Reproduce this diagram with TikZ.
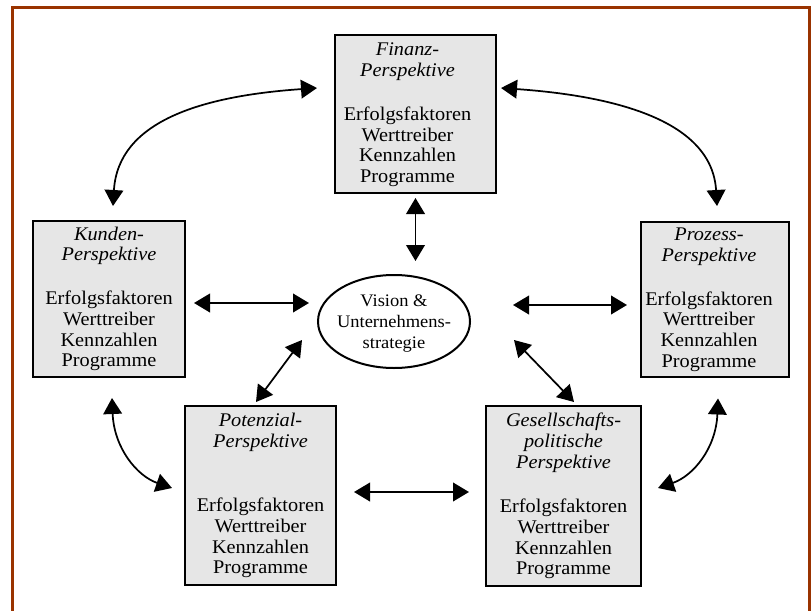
\documentclass[tikz,border=0pt]{standalone}
\usepackage{fontspec}
\setmainfont{Liberation Serif}[FakeStretch=1.05]
\usetikzlibrary{arrows.meta,shapes.geometric,calc}
\definecolor{framecol}{HTML}{993300}
\definecolor{boxfill}{HTML}{E6E6E6}
\begin{document}
\begin{tikzpicture}[x=0.75pt,y=-0.75pt,
  font=\fontsize{14.5}{15.5}\selectfont,
  persp/.style={draw, line width=1.5pt, fill=boxfill, align=center, inner sep=0pt},
  ptext/.style={align=center, inner sep=0pt},
  dbl/.style={line width=1.3pt, {Triangle[length=12pt,width=14pt]}-{Triangle[length=12pt,width=14pt]}}]
\useasboundingbox (0,0) rectangle (812,610);
\draw[framecol, line width=2.25pt] (12.5,7.5) rectangle (809.5,660);

\node[persp, minimum width=120.75pt, minimum height=118.5pt] (fin) at (415.5,114) {};
\node[ptext] (fint) at ($(fin.center)+(-8,1)$)
  {\textit{Finanz-}\\\textit{Perspektive}\\[17.5pt]Erfolgsfaktoren\\Werttreiber\\Kennzahlen\\Programme};
\node[persp, minimum width=114pt, minimum height=117pt] (kun) at (109,299)
  {\textit{Kunden-}\\\textit{Perspektive}\\[17.5pt]Erfolgsfaktoren\\Werttreiber\\Kennzahlen\\Programme};
\node[persp, minimum width=111pt, minimum height=116.25pt] (pro) at (715,299.5) {};
\node[ptext] (prot) at ($(pro.center)+(-6,0)$)
  {\textit{Prozess-}\\\textit{Perspektive}\\[17.5pt]Erfolgsfaktoren\\Werttreiber\\Kennzahlen\\Programme};
\node[persp, minimum width=113.25pt, minimum height=134.25pt] (pot) at (260.5,495.5)
  {\textit{Potenzial-}\\\textit{Perspektive}\\[33pt]Erfolgsfaktoren\\Werttreiber\\Kennzahlen\\Programme};
\node[persp, minimum width=116.25pt, minimum height=135pt] (ges) at (563.5,496)
  {\textit{Gesellschafts-}\\\textit{politische}\\\textit{Perspektive}\\[18pt]Erfolgsfaktoren\\Werttreiber\\Kennzahlen\\Programme};
\node[ellipse, draw, line width=1.5pt, minimum width=114pt, minimum height=69.75pt, inner sep=0pt] (vis) at (394,321.5) {};
\node[ptext, font=\fontsize{13.2}{15.5}\selectfont] (vist) at ($(vis.center)+(0,2)$)
  {Vision \&\\Unternehmens-\\strategie};

% straight arrows
\draw[dbl] ($(fin.south)+(0,4)$) -- ($(fin.south)+(0,67)$);
\draw[dbl] ($(kun.east)+(8,4)$) -- ($(vis.west)+(-8,-18.5)$);
\draw[dbl] ($(vis.east)+(42,-16.5)$) -- ($(pro.west)+(-13,5.5)$);
\draw[dbl] ($(vis.west)+(-15,18.5)$) -- ($(pot.north)+(-4.5,-3)$);
\draw[dbl] ($(vis.east)+(43,18.5)$) -- ($(ges.north)+(10.5,-3)$);
\draw[dbl] ($(pot.east)+(17,-3.5)$) -- ($(ges.west)+(-16,-4)$);

% curved arrows
\draw[dbl] ($(fin.west)+(-17,-26)$) .. controls +(-115,8) and +(5,-85) .. ($(kun.north)+(4,-14)$);
\draw[dbl] ($(fin.east)+(4,-26)$) .. controls +(115,8) and +(-5,-85) .. ($(pro.north)+(2,-15)$);
\draw[dbl] ($(kun.south)+(3,20)$) .. controls +(2,50) and +(-35,-12) .. ($(pot.west)+(-12,-7.5)$);
\draw[dbl] ($(pro.south)+(3,20.5)$) .. controls +(-2,50) and +(35,-12) .. ($(ges.east)+(16,-8)$);
\end{tikzpicture}
\end{document}
